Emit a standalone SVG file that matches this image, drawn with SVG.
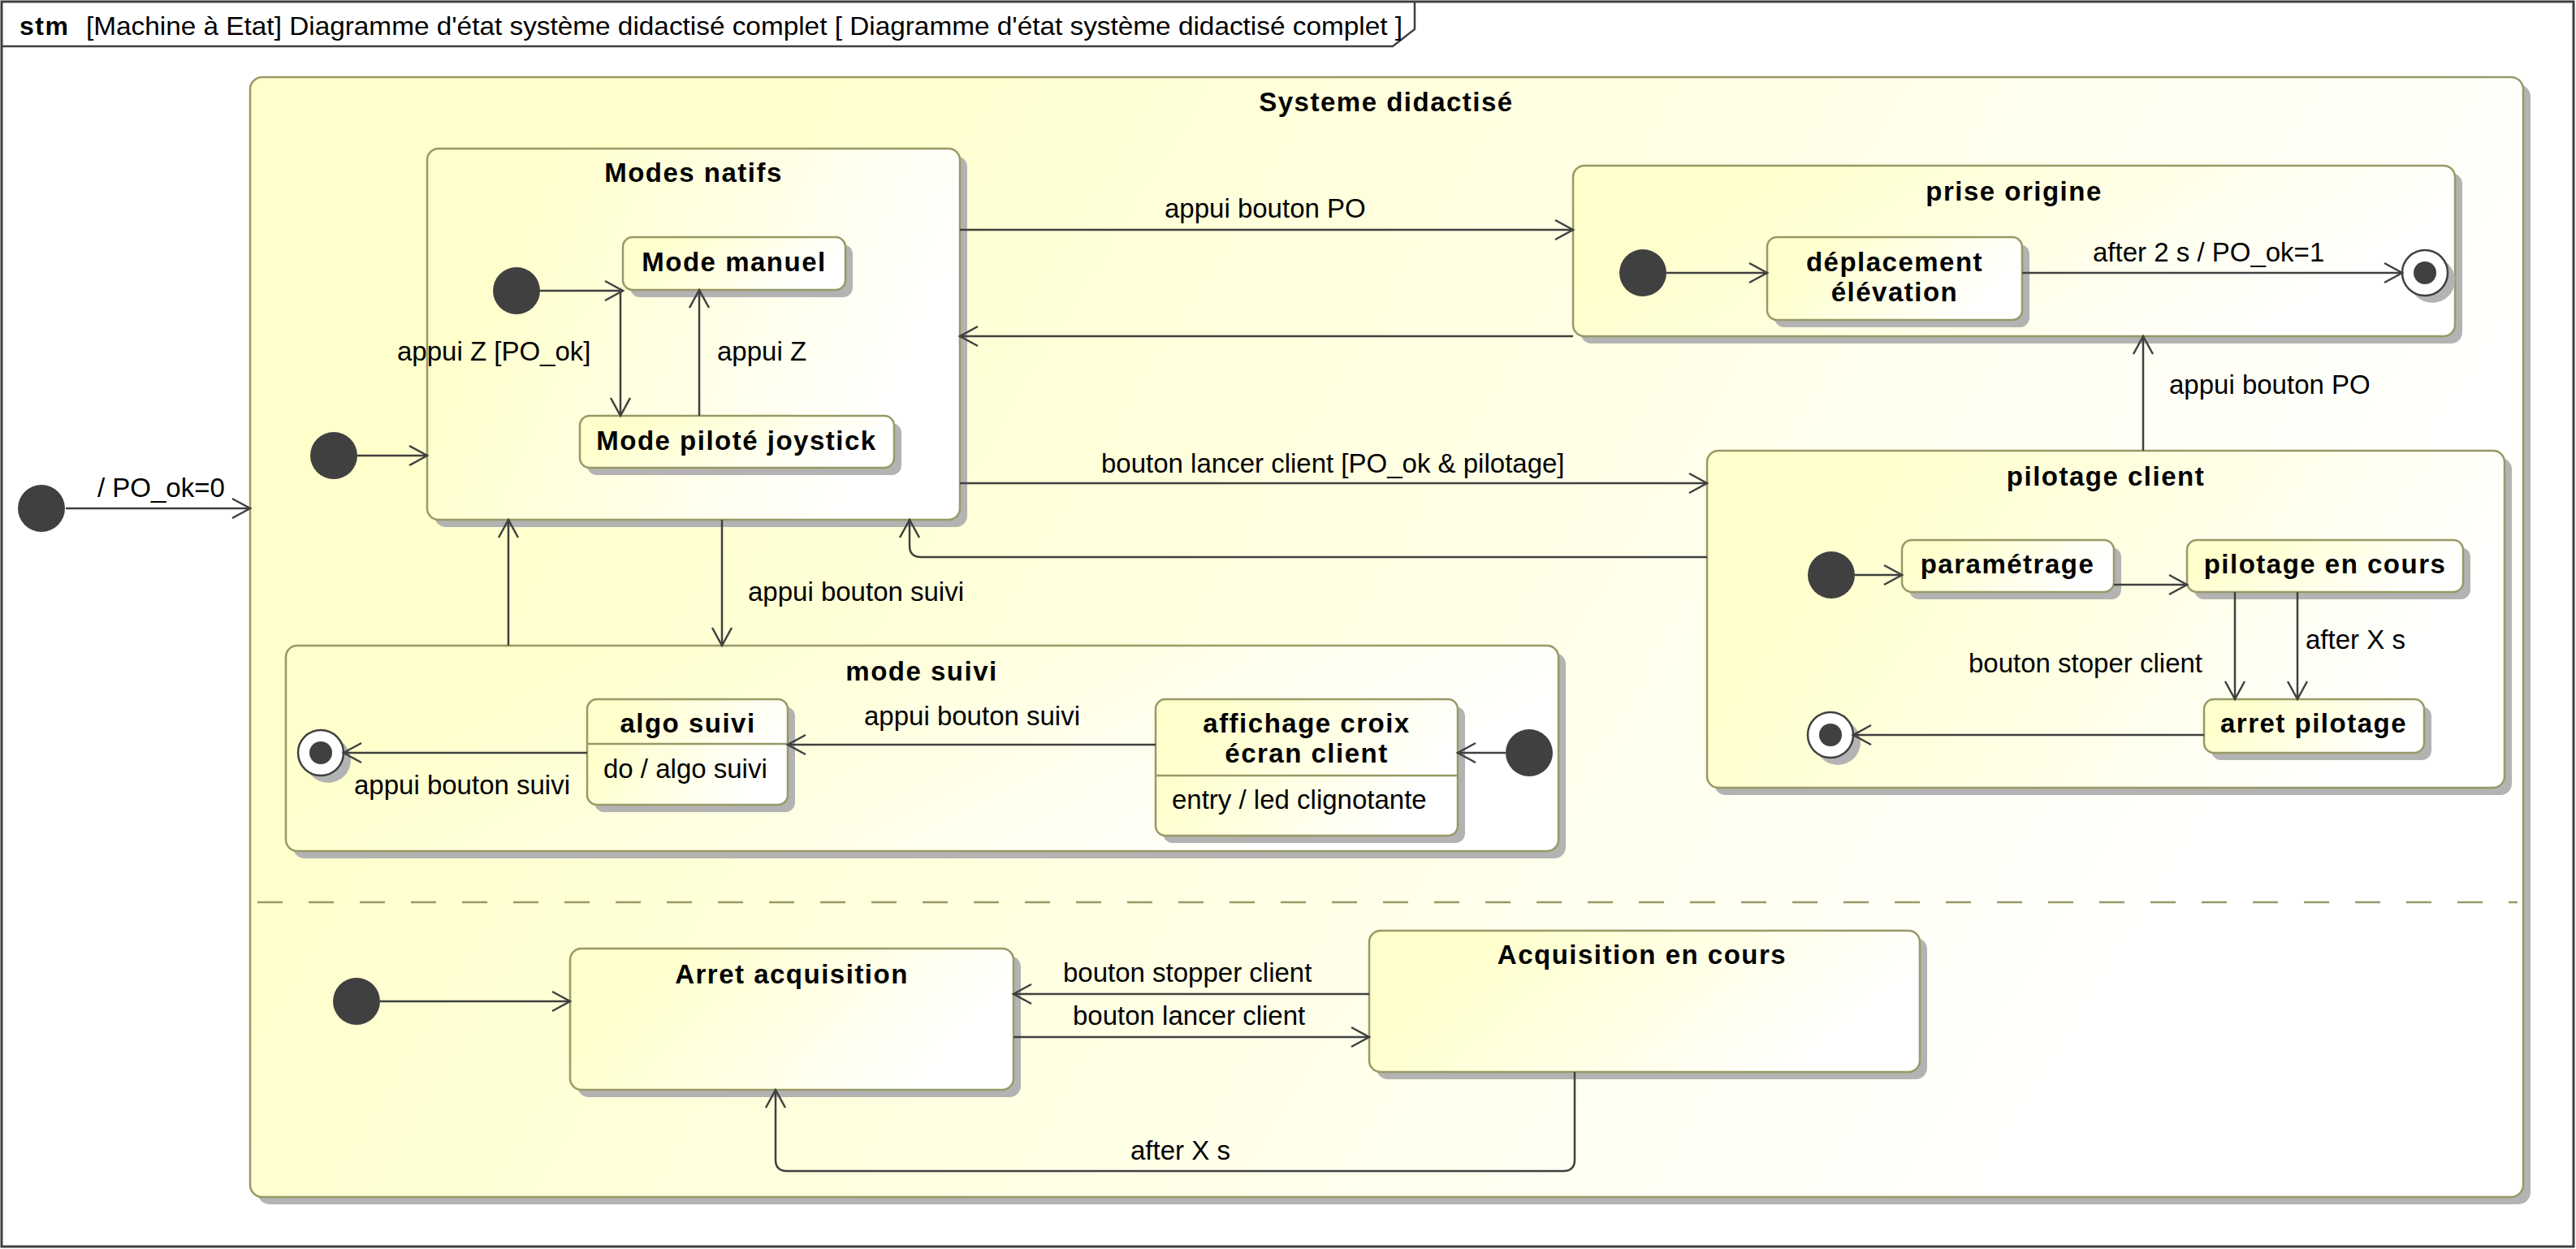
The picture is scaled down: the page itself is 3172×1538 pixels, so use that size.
<svg xmlns="http://www.w3.org/2000/svg" width="3172" height="1538" viewBox="0 0 3172 1538">
<defs>
<linearGradient id="g" x1="0" y1="0" x2="1" y2="0.3">
<stop offset="0" stop-color="#ffffcc"/>
<stop offset="0.2" stop-color="#ffffcc"/>
<stop offset="1" stop-color="#ffffff"/>
</linearGradient>
<marker id="arr" markerUnits="userSpaceOnUse" markerWidth="28" markerHeight="30" viewBox="0 0 28 30" refX="25" refY="15" orient="auto">
<path d="M3,3 L25,15 L3,27" fill="none" stroke="#404040" stroke-width="2.5"/>
</marker>
<style>
.st{fill:url(#g);stroke:#999966;stroke-width:2.5}
.sh{fill:#b3b3b3}
.dv{stroke:#999966;stroke-width:2.5}
.ln{fill:none;stroke:#404040;stroke-width:2.5}
.ar{marker-end:url(#arr)}
.ini{fill:#404040}
.fo{fill:#ffffff;stroke:#404040;stroke-width:2.5}
.t{font-family:"Liberation Sans",Arial,sans-serif;font-size:33px;fill:#000000}
.b{font-weight:bold;letter-spacing:1.5px}
.m{text-anchor:middle}
</style>
</defs>

<g id="frame">
<rect x="2" y="2" width="3167" height="1533" fill="#ffffff" stroke="#404040" stroke-width="3"/>
<path d="M2,57 H1715 L1742,36 V2" fill="none" stroke="#404040" stroke-width="2.5"/>
<text x="24" y="43" class="t b" style="font-size:32px">stm</text>
<text x="106" y="43" class="t" style="font-size:32px" textLength="1621" lengthAdjust="spacingAndGlyphs">[Machine à Etat] Diagramme d'état système didactisé complet [ Diagramme d'état système didactisé complet ]</text>
</g>

<g id="init-top">
<circle class="ini" cx="51" cy="626" r="29"/>
</g>

<g id="systeme-didactise">
<rect class="sh" x="317" y="104" width="2799" height="1379" rx="15"/>
<rect class="st" x="308" y="95" width="2799" height="1379" rx="15"/>
<text x="1707" y="137" class="t b m">Systeme didactisé</text>
<line x1="317" y1="1111" x2="3100" y2="1111" class="dv" stroke-dasharray="31 32"/>
</g>

<g id="init-region1">
<circle class="ini" cx="411" cy="561" r="29"/>
</g>

<g id="modes-natifs">
<rect class="sh" x="535" y="192" width="656" height="457" rx="14"/>
<rect class="st" x="526" y="183" width="656" height="457" rx="14"/>
<text x="854" y="224" class="t b m">Modes natifs</text>
</g>
<g id="init-modes-natifs">
<circle class="ini" cx="636" cy="358" r="29"/>
</g>
<g id="mode-manuel">
<rect class="sh" x="776" y="301" width="274" height="65" rx="12"/>
<rect class="st" x="767" y="292" width="274" height="65" rx="12"/>
<text x="904" y="334" class="t b m">Mode manuel</text>
</g>
<g id="mode-pilote-joystick">
<rect class="sh" x="723" y="521" width="387" height="64" rx="12"/>
<rect class="st" x="714" y="512" width="387" height="64" rx="12"/>
<text x="907" y="554" class="t b m">Mode piloté joystick</text>
</g>

<g id="prise-origine">
<rect class="sh" x="1946" y="213" width="1086" height="210" rx="14"/>
<rect class="st" x="1937" y="204" width="1086" height="210" rx="14"/>
<text x="2480" y="247" class="t b m">prise origine</text>
</g>
<g id="init-prise-origine">
<circle class="ini" cx="2023" cy="336" r="29"/>
</g>
<g id="deplacement-elevation">
<rect class="sh" x="2185" y="301" width="314" height="102" rx="12"/>
<rect class="st" x="2176" y="292" width="314" height="102" rx="12"/>
<text x="2333" y="334" class="t b m">déplacement</text>
<text x="2333" y="371" class="t b m">élévation</text>
</g>
<g id="final-prise-origine">
<circle class="sh" cx="2995" cy="345" r="28"/>
<circle class="fo" cx="2986" cy="336" r="28"/>
<circle class="ini" cx="2986" cy="336" r="14"/>
</g>

<g id="pilotage-client">
<rect class="sh" x="2111" y="564" width="982" height="415" rx="14"/>
<rect class="st" x="2102" y="555" width="982" height="415" rx="14"/>
<text x="2593" y="598" class="t b m">pilotage client</text>
</g>
<g id="init-pilotage-client">
<circle class="ini" cx="2255" cy="708" r="29"/>
</g>
<g id="parametrage">
<rect class="sh" x="2351" y="674" width="261" height="64" rx="12"/>
<rect class="st" x="2342" y="665" width="261" height="64" rx="12"/>
<text x="2472" y="706" class="t b m">paramétrage</text>
</g>
<g id="pilotage-en-cours">
<rect class="sh" x="2702" y="674" width="340" height="64" rx="12"/>
<rect class="st" x="2693" y="665" width="340" height="64" rx="12"/>
<text x="2863" y="706" class="t b m">pilotage en cours</text>
</g>
<g id="arret-pilotage">
<rect class="sh" x="2723" y="870" width="271" height="66" rx="12"/>
<rect class="st" x="2714" y="861" width="271" height="66" rx="12"/>
<text x="2849" y="902" class="t b m">arret pilotage</text>
</g>
<g id="final-pilotage-client">
<circle class="sh" cx="2263" cy="914" r="28"/>
<circle class="fo" cx="2254" cy="905" r="28"/>
<circle class="ini" cx="2254" cy="905" r="14"/>
</g>

<g id="mode-suivi">
<rect class="sh" x="361" y="804" width="1567" height="253" rx="14"/>
<rect class="st" x="352" y="795" width="1567" height="253" rx="14"/>
<text x="1135" y="838" class="t b m">mode suivi</text>
</g>
<g id="final-mode-suivi">
<circle class="sh" cx="404" cy="936" r="28"/>
<circle class="fo" cx="395" cy="927" r="28"/>
<circle class="ini" cx="395" cy="927" r="14"/>
</g>
<g id="algo-suivi">
<rect class="sh" x="732" y="870" width="247" height="130" rx="12"/>
<rect class="st" x="723" y="861" width="247" height="130" rx="12"/>
<line x1="723" y1="916" x2="970" y2="916" class="dv"/>
<text x="847" y="902" class="t b m">algo suivi</text>
<text x="743" y="958" class="t">do / algo suivi</text>
</g>
<g id="affichage-croix-ecran-client">
<rect class="sh" x="1432" y="870" width="372" height="168" rx="12"/>
<rect class="st" x="1423" y="861" width="372" height="168" rx="12"/>
<line x1="1423" y1="955" x2="1795" y2="955" class="dv"/>
<text x="1609" y="902" class="t b m">affichage croix</text>
<text x="1609" y="939" class="t b m">écran client</text>
<text x="1443" y="996" class="t">entry / led clignotante</text>
</g>
<g id="init-mode-suivi">
<circle class="ini" cx="1883" cy="927" r="29"/>
</g>

<g id="init-region2">
<circle class="ini" cx="439" cy="1233" r="29"/>
</g>
<g id="arret-acquisition">
<rect class="sh" x="711" y="1177" width="546" height="174" rx="14"/>
<rect class="st" x="702" y="1168" width="546" height="174" rx="14"/>
<text x="975" y="1211" class="t b m">Arret acquisition</text>
</g>
<g id="acquisition-en-cours">
<rect class="sh" x="1695" y="1155" width="678" height="174" rx="14"/>
<rect class="st" x="1686" y="1146" width="678" height="174" rx="14"/>
<text x="2022" y="1187" class="t b m">Acquisition en cours</text>
</g>

<g id="connectors">
<line x1="81" y1="626" x2="308" y2="626" class="ln ar"/>
<text x="120" y="612" class="t">/ PO_ok=0</text>
<line x1="440" y1="561" x2="526" y2="561" class="ln ar"/>
<line x1="665" y1="358" x2="767" y2="358" class="ln ar"/>
<line x1="764" y1="358" x2="764" y2="512" class="ln ar"/>
<text x="489" y="444" class="t">appui Z [PO_ok]</text>
<line x1="861" y1="512" x2="861" y2="357" class="ln ar"/>
<text x="883" y="444" class="t">appui Z</text>
<line x1="1182" y1="283" x2="1937" y2="283" class="ln ar"/>
<text x="1434" y="268" class="t">appui bouton PO</text>
<line x1="1937" y1="414" x2="1182" y2="414" class="ln ar"/>
<line x1="1182" y1="595" x2="2102" y2="595" class="ln ar"/>
<text x="1356" y="582" class="t">bouton lancer client [PO_ok &amp; pilotage]</text>
<path d="M2102,686 H1134 Q1120,686 1120,672 V640" class="ln ar"/>
<line x1="626" y1="795" x2="626" y2="640" class="ln ar"/>
<line x1="889" y1="640" x2="889" y2="795" class="ln ar"/>
<text x="921" y="740" class="t">appui bouton suivi</text>
<line x1="2052" y1="336" x2="2176" y2="336" class="ln ar"/>
<line x1="2490" y1="336" x2="2958" y2="336" class="ln ar"/>
<text x="2577" y="322" class="t">after 2 s / PO_ok=1</text>
<line x1="2639" y1="555" x2="2639" y2="414" class="ln ar"/>
<text x="2671" y="485" class="t">appui bouton PO</text>
<line x1="2284" y1="708" x2="2342" y2="708" class="ln ar"/>
<line x1="2603" y1="720" x2="2693" y2="720" class="ln ar"/>
<line x1="2752" y1="729" x2="2752" y2="861" class="ln ar"/>
<text x="2424" y="828" class="t">bouton stoper client</text>
<line x1="2829" y1="729" x2="2829" y2="861" class="ln ar"/>
<text x="2839" y="799" class="t">after X s</text>
<line x1="2714" y1="905" x2="2282" y2="905" class="ln ar"/>
<line x1="1854" y1="927" x2="1795" y2="927" class="ln ar"/>
<line x1="1423" y1="917" x2="970" y2="917" class="ln ar"/>
<text x="1064" y="893" class="t">appui bouton suivi</text>
<line x1="723" y1="927" x2="423" y2="927" class="ln ar"/>
<text x="436" y="978" class="t">appui bouton suivi</text>
<line x1="468" y1="1233" x2="702" y2="1233" class="ln ar"/>
<line x1="1686" y1="1224" x2="1248" y2="1224" class="ln ar"/>
<text x="1309" y="1209" class="t">bouton stopper client</text>
<line x1="1248" y1="1277" x2="1686" y2="1277" class="ln ar"/>
<text x="1321" y="1262" class="t">bouton lancer client</text>
<path d="M1939,1320 V1428 Q1939,1442 1925,1442 H969 Q955,1442 955,1428 V1342" class="ln ar"/>
<text x="1392" y="1428" class="t">after X s</text>
</g>
</svg>
